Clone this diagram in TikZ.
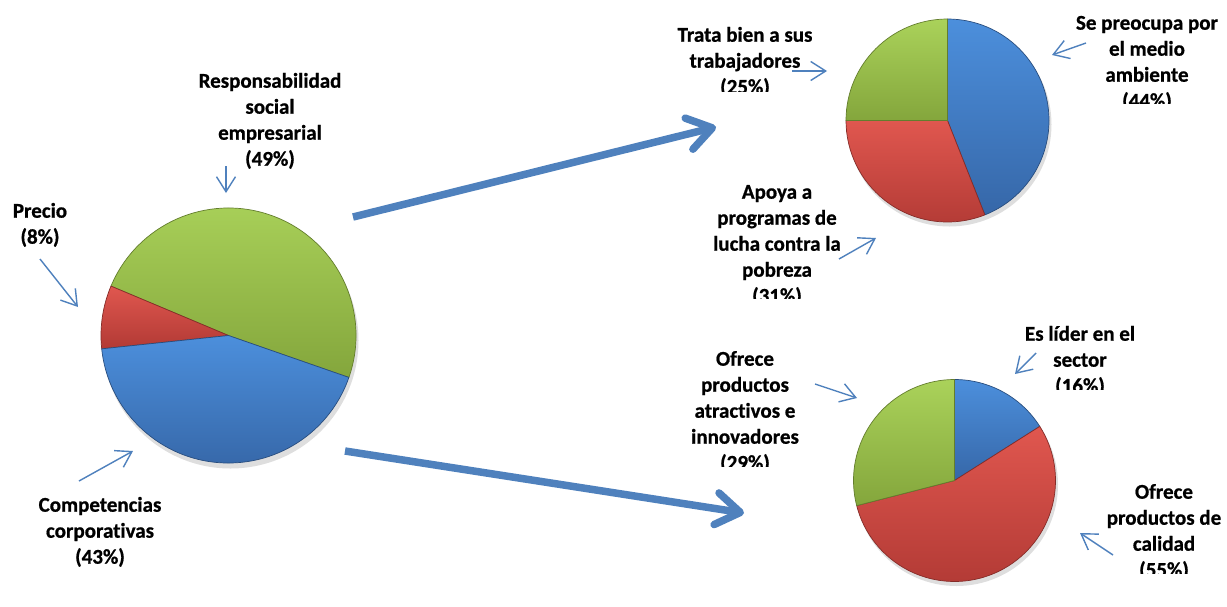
\documentclass[tikz,border=0pt]{standalone}
\usepackage{fontspec}
\setmainfont{Carlito}[Ligatures=NoCommon, BoldFeatures={FakeBold=0.8}]
\usetikzlibrary{arrows.meta}
\definecolor{arrowblue}{HTML}{4F81BD}
\definecolor{gtop}{HTML}{AAD25A}
\definecolor{gbot}{HTML}{84A63C}
\definecolor{rtop}{HTML}{E0574F}
\definecolor{rbot}{HTML}{B23A35}
\definecolor{btop}{HTML}{4C8FDC}
\definecolor{bbot}{HTML}{3667A8}
\newcommand\myslice[6]{%
  \path[top color=#5, bottom color=#6, draw=#6!75!black, line width=0.7pt, line join=round]
    #1 -- ++(#3:#2) arc[start angle=#3, end angle=#4, radius=#2] -- cycle;}
\begin{document}
\begin{tikzpicture}[x=1pt,y=-1pt,
  lbl/.style={anchor=north, align=center, inner sep=0pt, font=\fontsize{21}{26}\selectfont\bfseries},
  thinarrow/.style={draw=arrowblue, line width=1.4pt, -{Straight Barb[length=15pt,width=19pt]}},
  bigarrow/.style={draw=arrowblue, line width=7.5pt, -{Straight Barb[length=24pt,width=32pt,round]}},
  pieshadow/.style={fill=black, opacity=0.13}]
\useasboundingbox (0,0) rectangle (1227,606);
\fill[white] (0,0) rectangle (1227,606);

% pie centres
\coordinate (L) at (228.5,335.5);
\coordinate (T) at (947.5,120.5);
\coordinate (B) at (954.5,480.5);

% shadows
\fill[pieshadow] (L) ++(2,5) circle[radius=128];
\fill[pieshadow] (T) ++(2,4) circle[radius=102];
\fill[pieshadow] (B) ++(2,4) circle[radius=101.5];

% left pie
\myslice{(L)}{127.5}{19.2}{-157.2}{gtop}{gbot}
\myslice{(L)}{127.5}{-157.2}{-186}{rtop}{rbot}
\myslice{(L)}{127.5}{-186}{-340.8}{btop}{bbot}

% top-right pie
\myslice{(T)}{101.5}{-90}{68.4}{btop}{bbot}
\myslice{(T)}{101.5}{68.4}{180}{rtop}{rbot}
\myslice{(T)}{101.5}{180}{270}{gtop}{gbot}

% bottom-right pie
\myslice{(B)}{101}{-90}{-32.4}{btop}{bbot}
\myslice{(B)}{101}{-32.4}{165.6}{rtop}{rbot}
\myslice{(B)}{101}{165.6}{270}{gtop}{gbot}

% labels, left pie
\node[lbl] (resp) at (270,69.3) {\strut Responsabilidad\\social\\empresarial\\(49\%)};
\node[lbl] (prec) at (40,199.3) {\strut Precio\\(8\%)};
\node[lbl] (comp) at (100,493.3) {\strut Competencias\\corporativas\\(43\%)};

% labels, top-right pie (clipped last line)
\begin{scope}
  \clip (600,0) rectangle (840,91);
  \node[lbl] (trata) at (745,23.3) {\strut Trata bien a sus\\trabajadores\\(25\%)};
\end{scope}
\begin{scope}
  \clip (1060,0) rectangle (1227,103);
  \node[lbl] (preoc) at (1147,11.3) {\strut Se preocupa por\\el medio\\ambiente\\(44\%)};
\end{scope}
\begin{scope}
  \clip (690,170) rectangle (860,298);
  \node[lbl] (apoya) at (777,180.3) {\strut Apoya a\\programas de\\lucha contra la\\pobreza\\(31\%)};
\end{scope}

% labels, bottom-right pie (clipped last line)
\begin{scope}
  \clip (1000,310) rectangle (1160,389);
  \node[lbl] (lider) at (1080,322.3) {\strut Es líder en el\\sector\\(16\%)};
\end{scope}
\begin{scope}
  \clip (660,330) rectangle (830,466);
  \node[lbl] (atrac) at (745,347.3) {\strut Ofrece\\productos\\atractivos e\\innovadores\\(29\%)};
\end{scope}
\begin{scope}
  \clip (1090,470) rectangle (1227,573);
  \node[lbl] (calid) at (1164,480.3) {\strut Ofrece\\productos de\\calidad\\(55\%)};
\end{scope}

% thin pointer arrows
\coordinate (r0) at (226,166);  \coordinate (r1) at (226,193);
\coordinate (p0) at (40,259);   \coordinate (p1) at (78,307);
\coordinate (c0) at (79,481);   \coordinate (c1) at (133,451);
\coordinate (t0) at (792,71);   \coordinate (t1) at (827,71);
\coordinate (s0) at (1086,43);  \coordinate (s1) at (1052,55);
\coordinate (a0) at (839,259);  \coordinate (a1) at (876,238);
\coordinate (e0) at (1036,353); \coordinate (e1) at (1015,374);
\coordinate (o0) at (815,384);  \coordinate (o1) at (857,398);
\coordinate (q0) at (1113,555); \coordinate (q1) at (1080,533);
\foreach \u/\v in {r0/r1,p0/p1,c0/c1,t0/t1,s0/s1,a0/a1,e0/e1,o0/o1,q0/q1}
  \draw[thinarrow] (\u) -- (\v);

% big arrows
\coordinate (g0) at (353,217); \coordinate (g1) at (716,127);
\coordinate (h0) at (345,451); \coordinate (h1) at (744,513);
\draw[bigarrow] (g0) -- (g1);
\draw[bigarrow] (h0) -- (h1);
\end{tikzpicture}
\end{document}
